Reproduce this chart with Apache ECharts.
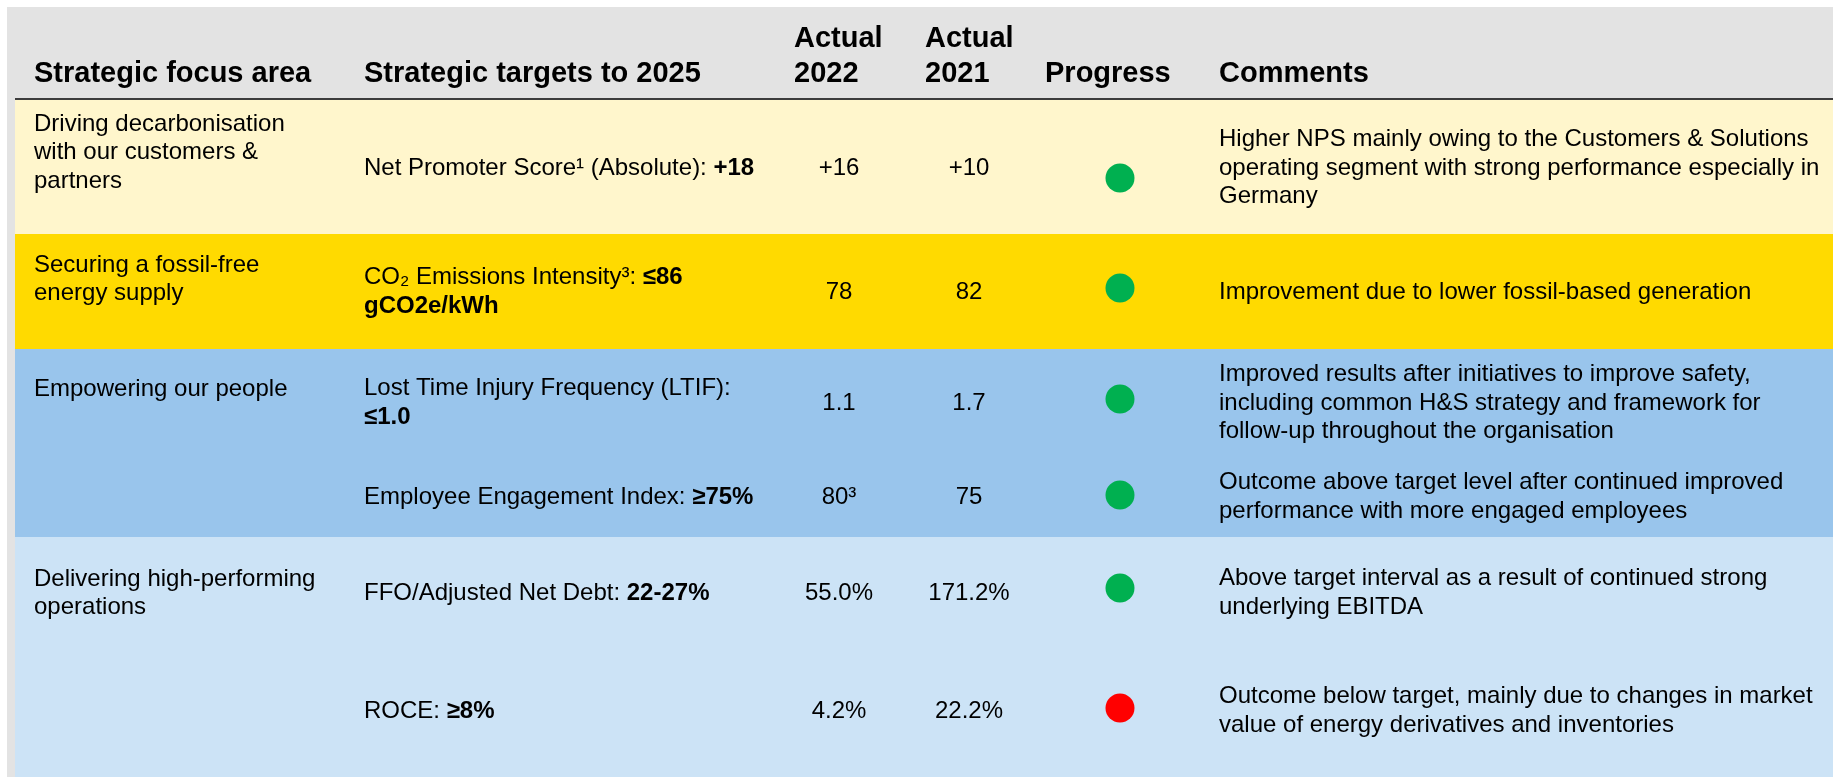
<!DOCTYPE html>
<html>
<head>
<meta charset="utf-8">
<script src="https://cdn.jsdelivr.net/npm/echarts@6/dist/echarts.min.js"></script>
<style>
  html, body { margin: 0; padding: 0; background: #fff; }
  #chart { width: 1833px; height: 777px; }
</style>
</head>
<body>
<div id="chart"></div>
<script>
// table content
const headers = ['Strategic focus area', 'Strategic targets to 2025', 'Actual\n2022', 'Actual\n2021', 'Progress', 'Comments'];

const focusAreas = [
  'Driving decarbonisation\nwith our customers &\npartners',
  'Securing a fossil-free\nenergy supply',
  'Empowering our people',
  'Delivering high-performing\noperations'
];

// which focus area each target row belongs to
const rowArea = [0, 1, 2, 2, 3, 3];

const targetNames = [
  'Net Promoter Score¹ (Absolute): ',
  'CO₂ Emissions Intensity³: ',
  'Lost Time Injury Frequency (LTIF):\n',
  'Employee Engagement Index: ',
  'FFO/Adjusted Net Debt: ',
  'ROCE: '
];
const targetGoals = ['+18', '≤86\ngCO2e/kWh', '≤1.0', '≥75%', '22-27%', '≥8%'];

const actual2022 = ['+16', '78', '1.1', '80³', '55.0%', '4.2%'];
const actual2021 = ['+10', '82', '1.7', '75', '171.2%', '22.2%'];
const progress = ['on', 'on', 'on', 'on', 'on', 'off'];

const comments = [
  'Higher NPS mainly owing to the Customers & Solutions\noperating segment with strong performance especially in\nGermany',
  'Improvement due to lower fossil-based generation',
  'Improved results after initiatives to improve safety,\nincluding common H&S strategy and framework for\nfollow-up throughout the organisation',
  'Outcome above target level after continued improved\nperformance with more engaged employees',
  'Above target interval as a result of continued strong\nunderlying EBITDA',
  'Outcome below target, mainly due to changes in market\nvalue of energy derivatives and inventories'
];

// layout (pixel space of the hidden axes)
const W = 1833, H = 777;
const layout = {
  pageLeft: 7, pageTop: 7, bodyLeft: 15, headerLine: 99,
  areaBands: [[100, 234], [234, 349], [349, 537], [537, 777]],
  areaTextY: [124, 265, 389, 579],
  rowY: [168, 292, 403, 497, 593, 711],
  dotY: [178, 288, 399, 495, 588, 708],
  headX: [34, 364, 794, 925, 1045, 1219],
  colX: [34, 364, 839, 969, 1120, 1219]
};
const areaColors = ['#FFF6CC', '#FFDA00', '#99C5EC', '#CCE3F6'];
const progressColors = { on: '#00B050', off: '#FF0000' };

const FONT = '"Liberation Sans", Arial, sans-serif';
const BODY = 24, HEAD = 29, LH = 28.5;

const chart = echarts.init(document.getElementById('chart'));

function rect(api, x0, y0, x1, y1, fill) {
  const a = api.coord([x0, y0]);
  const b = api.coord([x1, y1]);
  return { type: 'rect', shape: { x: a[0], y: a[1], width: b[0] - a[0], height: b[1] - a[1] }, style: { fill: fill } };
}

function text(api, x, y, str, opts) {
  const p = api.coord([x, y]);
  return {
    type: 'text',
    style: Object.assign({
      x: p[0], y: p[1], text: str, fill: '#000',
      fontFamily: FONT, fontSize: BODY, lineHeight: LH,
      align: 'left', verticalAlign: 'middle'
    }, opts || {})
  };
}

const option = {
  animation: false,
  grid: { left: 0, right: 0, top: 0, bottom: 0 },
  xAxis: { type: 'value', min: 0, max: W, show: false },
  yAxis: { type: 'value', min: 0, max: H, inverse: true, show: false },
  series: [
    {
      // header band
      type: 'custom',
      data: [[0, 0]],
      renderItem(params, api) {
        const children = [
          rect(api, layout.pageLeft, layout.pageTop, W, H, '#E3E3E3'),
          rect(api, layout.bodyLeft, layout.headerLine - 1, W, layout.headerLine + 1, '#3C3C3C')
        ];
        headers.forEach((h, i) => {
          children.push(text(api, layout.headX[i], h.indexOf('\n') >= 0 ? 56.5 : 74, h, {
            fontSize: HEAD, fontWeight: 'bold', lineHeight: 35
          }));
        });
        return { type: 'group', children: children };
      }
    },
    {
      // focus area bands
      type: 'custom',
      data: focusAreas.map((a, i) => [0, i]),
      renderItem(params, api) {
        const i = params.dataIndex;
        const band = layout.areaBands[i];
        return {
          type: 'group',
          children: [
            rect(api, layout.bodyLeft, band[0], W, band[1], areaColors[i]),
            text(api, layout.colX[0], layout.areaTextY[i] - LH / 2, focusAreas[i], { verticalAlign: 'top' })
          ]
        };
      }
    },
    {
      // target rows
      type: 'custom',
      data: targetNames.map((t, i) => [0, i]),
      renderItem(params, api) {
        const i = params.dataIndex;
        const y = layout.rowY[i];
        const rich = {
          n: { fontFamily: FONT, fontSize: BODY, lineHeight: LH, fill: '#000' },
          b: { fontFamily: FONT, fontSize: BODY, lineHeight: LH, fontWeight: 'bold', fill: '#000' }
        };
        const target = '{n|' + targetNames[i].replace('\n', '') + '}' +
          (targetNames[i].indexOf('\n') >= 0 ? '\n' : '') + '{b|' + targetGoals[i] + '}';
        return {
          type: 'group',
          children: [
            text(api, layout.colX[1], y, target, { rich: rich }),
            text(api, layout.colX[2], y, actual2022[i], { align: 'center' }),
            text(api, layout.colX[3], y, actual2021[i], { align: 'center' }),
            text(api, layout.colX[5], y, comments[i])
          ]
        };
      }
    },
    {
      name: 'Progress',
      type: 'scatter',
      symbol: 'circle',
      symbolSize: 29,
      data: progress.map((p, i) => ({
        value: [layout.colX[4], layout.dotY[i]],
        itemStyle: { color: progressColors[p], opacity: 1 }
      }))
    }
  ]
};

chart.setOption(option);
</script>
</body>
</html>
